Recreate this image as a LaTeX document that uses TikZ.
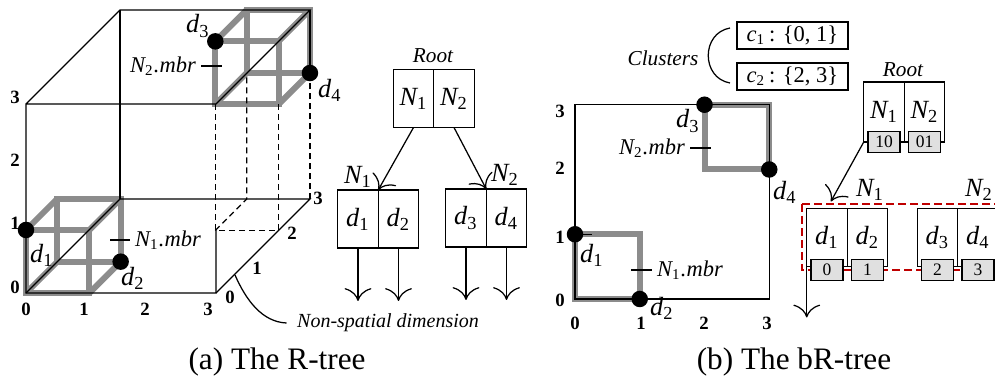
\documentclass[tikz,border=0pt]{standalone}
\usepackage{fontspec}
\setmainfont{Liberation Serif}
\usetikzlibrary{positioning,calc,arrows.meta}

\newcommand{\fsz}[1]{\fontsize{#1}{#1}\selectfont}
\newcommand{\vsub}[2]{\textit{#1}\textsubscript{\upshape #2}}

\begin{document}
\begin{tikzpicture}[x=0.4pt,y=-0.4pt,line width=0.5pt,
    mbr/.style={black!45,line width=2.4pt},
    proj/.style={dash pattern=on 2.4pt off 1.6pt},
    dot/.style={circle,fill=black,inner sep=0pt,minimum size=6.6pt},
    lbl/.style={font=\fsz{10.5}\itshape,inner sep=0pt},
    note/.style={font=\fsz{8.5}\itshape,inner sep=0pt},
    axlbl/.style={font=\fsz{7.5}\bfseries,inner sep=0pt},
    cell/.style={draw,outer sep=0pt,inner sep=0pt,minimum width=16.2pt,
      minimum height=23.2pt,font=\fsz{10.5}\itshape},
    bits/.style={draw,fill=black!12,outer sep=0pt,inner sep=0pt,
      minimum width=12.8pt,minimum height=8.4pt,font=\fsz{7}},
    ptr/.style={-{To[scale=1.9]}},
    caption/.style={font=\fsz{12.5},inner sep=0pt}]
  \useasboundingbox (0,0) rectangle (995,385);

  % (a) space with the non-spatial dimension
  \begin{scope}[shift={(26,293)},x={(25.33pt,0pt)},y={(0pt,25.2pt)},z={(12.53pt,12.53pt)}]
    \foreach \o in {0,2} {
      \draw[mbr] (\o,\o,\o) rectangle ++(1,1,0);
      \draw[mbr] (\o,\o,\o) ++(0,0,1) rectangle ++(1,1,0);
      \foreach \dx/\dy in {0/0,1/0,0/1,1/1}
        \draw[mbr] (\o,\o,\o) ++(\dx,\dy,0) -- ++(0,0,1);
    }
    \draw (3,1,0) -- (3,0,0) -- (0,0,0) -- (0,3,0) -- (3,3,0) -- (3,3,3) -- (0,3,3) -- (0,3,0);
    \draw (0,0,0) -- (0,0,3) -- (3,0,3) -- (3,0,0);
    \draw (0,0,3) -- (0,3,3);
    \draw (3,2,3) -- (3,3,3);
    \draw[proj] (2,2,2) -- (2,0,2) -- (3,0,2) -- (3,2,2);
    \draw[proj] (2,0,2) -- (2,0,3) -- (2,2,3);
    \draw[proj] (3,0,3) -- (3,2,3);
    \node[dot] (a-d1) at (0,1,0) {};
    \node[dot] (a-d2) at (1,0,1) {};
    \node[dot] (a-d3) at (2,3,2) {};
    \node[dot] (a-d4) at (3,2,3) {};
  \end{scope}

  \foreach \v/\y in {0/287,1/223,2/160,3/97}
    \node[axlbl] (a-y\v) at (15,\y) {\v};
  \foreach \v/\x in {0/26,1/84,2/145,3/208}
    \node[axlbl] (a-x\v) at (\x,309) {\v};
  \foreach \v/\x/\y in {0/230/297,1/257/268,2/292/233,3/318/198}
    \node[axlbl] (a-z\v) at (\x,\y) {\v};

  \node[lbl] (a-l1) at (42,255) {\vsub{d}{1}};
  \node[lbl] (a-l2) at (133,278) {\vsub{d}{2}};
  \node[lbl] (a-l3) at (198,26) {\vsub{d}{3}};
  \node[lbl] (a-l4) at (330,90) {\vsub{d}{4}};
  \node[lbl,font=\fsz{9}\itshape] (a-m2) at (163,66) {\vsub{N}{2}.mbr};
  \draw ([xshift=2pt]a-m2.east) -- ++(21,0);
  \node[lbl,font=\fsz{9}\itshape] (a-m1) at (168,240) {\vsub{N}{1}.mbr};
  \draw ([xshift=-2pt]a-m1.west) -- ++(-20,0);

  \node[note,font=\fsz{8}\itshape] (nsd) at (388,323) {Non-spatial dimension};
  \draw ([xshift=-4pt]nsd.west) .. controls (262,322) and (246,300) .. (235,275);

  % (a) R-tree
  \node[note] (a-root) at (433,56) {Root};
  \node[cell] (rootA) at (413.5,98.5) {\vsub{N}{1}};
  \node[cell,right=0pt of rootA] (rootB) {\vsub{N}{2}};
  \node[cell] (leafA1) at (358,219) {\vsub{d}{1}};
  \node[cell,right=0pt of leafA1] (leafA2) {\vsub{d}{2}};
  \node[cell] (leafA3) at (466,218) {\vsub{d}{3}};
  \node[cell,right=0pt of leafA3] (leafA4) {\vsub{d}{4}};
  \node[lbl] (a-n1) at (358,177) {\vsub{N}{1}};
  \node[lbl] (a-n2) at (505,175) {\vsub{N}{2}};
  \draw[ptr] (rootA.south) -- (leafA1.north east);
  \draw[ptr] (rootB.south) -- (leafA3.north east);
  \foreach \c in {leafA1,leafA2,leafA3,leafA4}
    \draw[ptr] (\c.south) -- ++(0,53);

  \node[caption] (capA) at (277,362) {(a) The R-tree};

  % (b) plane
  \begin{scope}[shift={(575,299)},x={(25.9pt,0pt)},y={(0pt,25.9pt)}]
    \draw[mbr] (0,0) rectangle (1,1);
    \draw[mbr] (2,2) rectangle (3,3);
    \draw (0,0) rectangle (3,3);
    \draw (0,1) -- (0.27,1);
    \node[dot] (b-d1) at (0,1) {};
    \node[dot] (b-d2) at (1,0) {};
    \node[dot] (b-d3) at (2,3) {};
    \node[dot] (b-d4) at (3,2) {};
  \end{scope}

  \foreach \v/\y in {0/300,1/237,2/168,3/111}
    \node[axlbl] (b-y\v) at (560,\y) {\v};
  \foreach \v/\x in {0/575,1/641,2/704,3/767}
    \node[axlbl] (b-x\v) at (\x,323) {\v};

  \node[lbl] (b-l1) at (592,255) {\vsub{d}{1}};
  \node[lbl] (b-l2) at (662,308) {\vsub{d}{2}};
  \node[lbl] (b-l3) at (688,121) {\vsub{d}{3}};
  \node[lbl] (b-l4) at (785,192) {\vsub{d}{4}};
  \node[lbl,font=\fsz{9}\itshape] (b-m1) at (690,270) {\vsub{N}{1}.mbr};
  \draw ([xshift=-2pt]b-m1.west) -- ++(-21,0);
  \node[lbl,font=\fsz{9}\itshape] (b-m2) at (652,148) {\vsub{N}{2}.mbr};
  \draw ([xshift=2pt]b-m2.east) -- ++(21,0);

  % clusters
  \node[note] (clusters) at (663,58) {Clusters};
  \draw (730,28) .. controls (701,33) and (701,78) .. (730,83);
  \node[draw,inner sep=0pt,minimum width=44.4pt,minimum height=10.8pt,font=\fsz{9}]
    (clu1) at (792.5,35.5) {\vsub{c}{1}\,: \{0, 1\}};
  \node[draw,inner sep=0pt,minimum width=44.4pt,minimum height=10.8pt,font=\fsz{9}]
    (clu2) at (792.5,76.5) {\vsub{c}{2}\,: \{2, 3\}};

  % (b) bR-tree
  \draw[red!75!black,line width=0.8pt,dash pattern=on 3.2pt off 1.6pt]
    (802,204) rectangle (1010,270);
  \node[note] (b-root) at (903,70) {Root};
  \node[cell,minimum height=24pt] (rootC) at (884,112) {\vsub{N}{1}};
  \node[cell,minimum height=24pt,right=0pt of rootC] (rootD) {\vsub{N}{2}};
  \node[bits] (bitC) at (rootC.south) {10};
  \node[bits] (bitD) at (rootD.south) {01};
  \node[cell] (leafC1) at (827,237.5) {\vsub{d}{1}};
  \node[cell,right=0pt of leafC1] (leafC2) {\vsub{d}{2}};
  \node[cell] (leafC3) at (937.5,237.5) {\vsub{d}{3}};
  \node[cell,right=0pt of leafC3] (leafC4) {\vsub{d}{4}};
  \foreach \c/\b in {leafC1/0,leafC2/1,leafC3/2,leafC4/3}
    \node[bits] (bit\b) at ($(\c.south)+(0,3.5)$) {\b};
  \node[lbl] (b-n1) at (870,190) {\vsub{N}{1}};
  \node[lbl] (b-n2) at (979,190) {\vsub{N}{2}};
  \draw[ptr,shorten >=3.2pt] (rootC.south west) -- (leafC1.north);
  \draw[ptr] (leafC1.south west) -- ++(0,51);

  \node[caption] (capB) at (794,362) {(b) The bR-tree};
\end{tikzpicture}
\end{document}
